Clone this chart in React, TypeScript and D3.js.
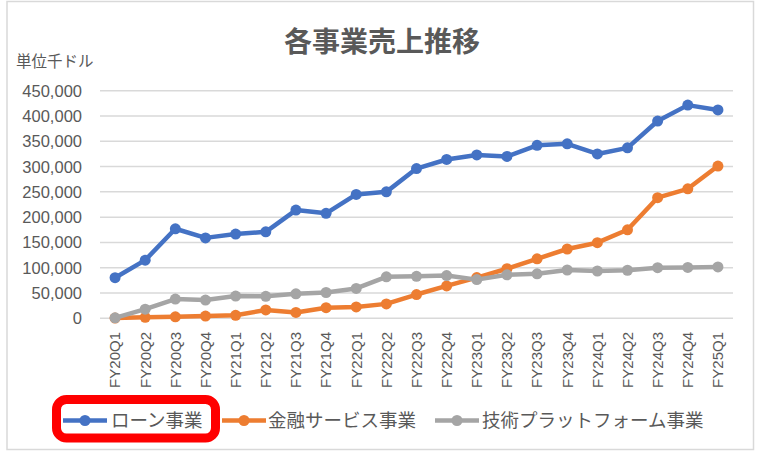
import { line, scaleLinear, scalePoint } from "d3";

const categories = [
  "FY20Q1", "FY20Q2", "FY20Q3", "FY20Q4",
  "FY21Q1", "FY21Q2", "FY21Q3", "FY21Q4",
  "FY22Q1", "FY22Q2", "FY22Q3", "FY22Q4",
  "FY23Q1", "FY23Q2", "FY23Q3", "FY23Q4",
  "FY24Q1", "FY24Q2", "FY24Q3", "FY24Q4",
  "FY25Q1",
];

const loan = [
  80300, 115000, 177000, 159000, 166500, 171000, 214000, 207500, 245000, 250000,
  296000, 314000, 323000, 320000, 342000, 345000, 325000, 337000, 390000, 421500, 412000,
];
const finance = [
  500, 2000, 3000, 4500, 6000, 16500, 11500, 21000, 22500, 28500,
  47000, 64000, 80500, 98000, 117500, 137000, 149500, 175000, 238500, 256000, 301000,
];
const tech = [
  1000, 18000, 38000, 36000, 44000, 43500, 48500, 51000, 59000, 82000,
  83000, 84500, 76500, 86000, 88000, 95500, 93500, 95000, 100000, 100500, 101500,
];

const yTicks = [0, 50000, 100000, 150000, 200000, 250000, 300000, 350000, 400000, 450000];

const series = [
  { name: "ローン事業", values: loan, color: "#4472C4" },
  { name: "金融サービス事業", values: finance, color: "#ED7D31" },
  { name: "技術プラットフォーム事業", values: tech, color: "#A5A5A5" },
];

const W = 758;
const H = 452;
const plot = { left: 100, right: 733, top: 90.7, bottom: 318.3 };
const jp = "'Noto Sans CJK JP', 'Noto Sans', sans-serif";
const num = "'Liberation Sans', Arial, sans-serif";
const textColor = "#595959";

export default function App() {
  const x = scalePoint<string>().domain(categories).range([plot.left, plot.right]).padding(0.5);
  const y = scaleLinear().domain([0, 450000]).range([plot.bottom, plot.top]);
  const path = line<number>()
    .x((_, i) => x(categories[i]) ?? 0)
    .y((d) => y(d));

  // legend item positions: line start, text start
  const legend = [
    { lx: 63, tx: 111 },
    { lx: 222, tx: 268 },
    { lx: 435, tx: 482 },
  ];

  return (
    <div style={{ position: "absolute", left: 0, top: 0 }}>
      <svg width={W} height={H} viewBox={`0 0 ${W} ${H}`} style={{ display: "block", background: "#fff" }}>
        <rect x={7} y={1.5} width={746.5} height={448} fill="#fff" stroke="#d9d9d9" strokeWidth={1.5} />

        <text x={382} y={52} textAnchor="middle" fontFamily={jp} fontSize={28} fontWeight={700} fill={textColor}>
          各事業売上推移
        </text>
        <text x={16} y={67} fontFamily={jp} fontSize={15.5} fill={textColor}>
          単位千ドル
        </text>

        {yTicks.map((t) => (
          <g key={t}>
            <line x1={plot.left} x2={plot.right} y1={y(t)} y2={y(t)} stroke="#d9d9d9" strokeWidth={1.5} />
            <text x={82} y={y(t)} dy="0.36em" textAnchor="end" fontFamily={num} fontSize={16.5} fill={textColor}>
              {t.toLocaleString("en-US")}
            </text>
          </g>
        ))}

        {categories.map((c) => (
          <text
            key={c}
            transform={`translate(${x(c)}, 332) rotate(-90)`}
            dy="0.36em"
            textAnchor="end"
            fontFamily={num}
            fontSize={15}
            fill={textColor}
          >
            {c}
          </text>
        ))}

        {series.map((s) => (
          <g key={s.name}>
            <path d={path(s.values) ?? ""} fill="none" stroke={s.color} strokeWidth={4.5} strokeLinejoin="round" />
            {s.values.map((v, i) => (
              <circle key={i} cx={x(categories[i])} cy={y(v)} r={5.5} fill={s.color} />
            ))}
          </g>
        ))}

        {series.map((s, i) => (
          <g key={s.name}>
            <line x1={legend[i].lx} x2={legend[i].lx + 44} y1={420.5} y2={420.5} stroke={s.color} strokeWidth={4.5} />
            <circle cx={legend[i].lx + 22} cy={420.5} r={5.5} fill={s.color} />
            <text x={legend[i].tx} y={420.5} dy="0.36em" fontFamily={jp} fontSize={18.5} fill={textColor}>
              {s.name}
            </text>
          </g>
        ))}

        <rect x={56.5} y={399.5} width={159} height={38.5} rx={10} fill="none" stroke="#FF0000" strokeWidth={9} />
      </svg>
    </div>
  );
}
